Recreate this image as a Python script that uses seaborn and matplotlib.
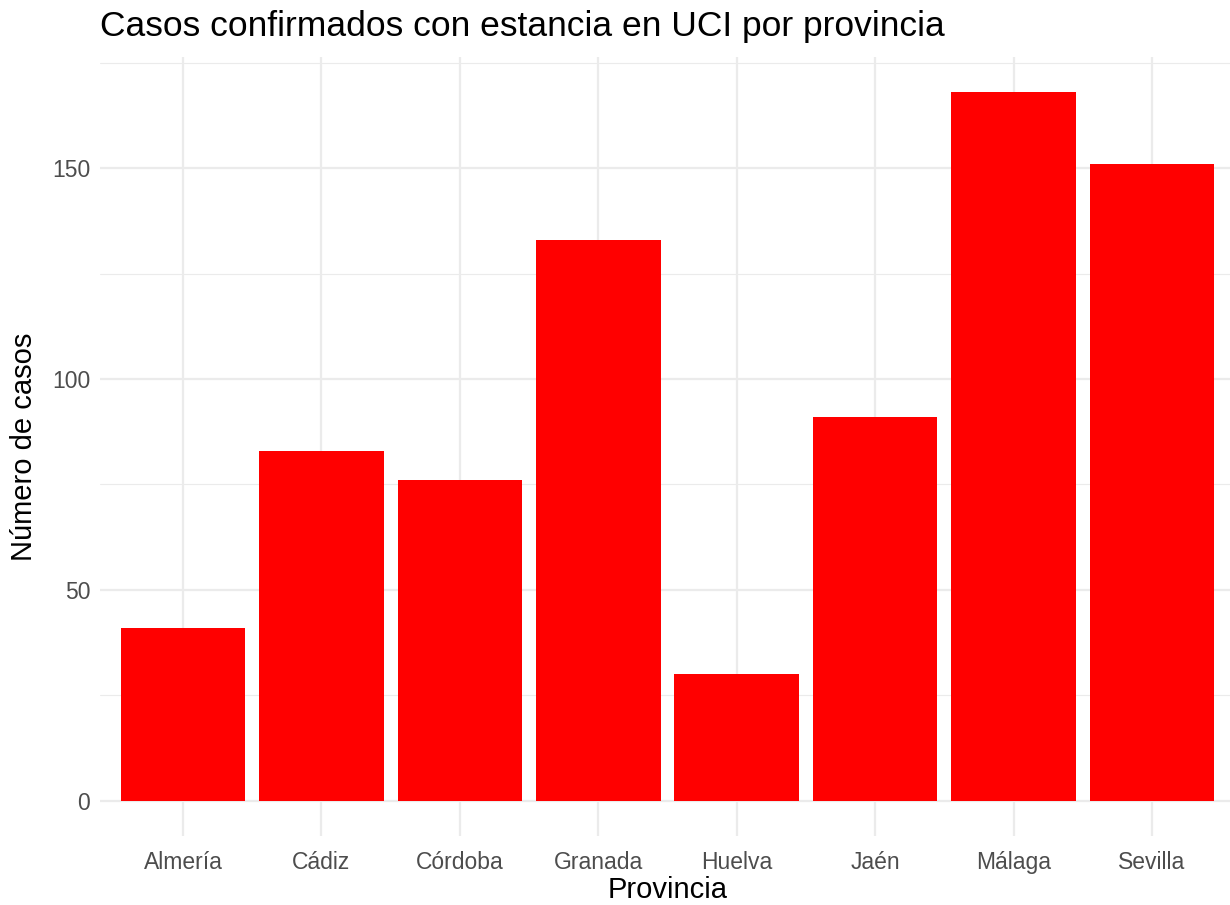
import matplotlib
matplotlib.use("Agg")
import matplotlib.pyplot as plt
import seaborn as sns
import pandas as pd
from matplotlib.ticker import MultipleLocator

provincias = ["Almería", "Cádiz", "Córdoba", "Granada", "Huelva", "Jaén", "Málaga", "Sevilla"]
casos = [41, 83, 76, 133, 30, 91, 168, 151]

df = pd.DataFrame({"Provincia": provincias, "casos": casos})

sns.set_style("white")
plt.rcParams['font.family'] = ['Liberation Sans', 'DejaVu Sans']

fig = plt.figure(figsize=(12.3, 9.05), dpi=100)
ax = fig.add_axes([100/1230, 1 - 836/905, 1135/1230, (836-57)/905])

sns.barplot(data=df, x="Provincia", y="casos", color="#FF0000", width=0.9,
            saturation=1, ax=ax, zorder=3, linewidth=0)

ax.set_xlim(-0.6, 7.6)
ax.set_ylim(-8.4, 176.4)
ax.yaxis.set_major_locator(MultipleLocator(50))
ax.yaxis.set_minor_locator(MultipleLocator(25))

ax.grid(which="major", axis="both", color="#EBEBEB", linewidth=1.6, zorder=0)
ax.grid(which="minor", axis="y", color="#EBEBEB", linewidth=0.8, zorder=0)
ax.set_axisbelow(True)
for s in ax.spines.values():
    s.set_visible(False)
ax.tick_params(axis="both", which="both", length=0, labelsize=16.5, colors="#4D4D4D", pad=7)
ax.tick_params(axis="x", pad=11)

ax.set_xlabel("Provincia", fontsize=21, color="black", labelpad=1)
ax.set_ylabel("Número de casos", fontsize=21, color="black", labelpad=10)
ax.set_title("Casos confirmados con estancia en UCI por provincia", fontsize=25.5,
             loc="left", x=0, pad=15, color="black")

fig.savefig("out.png", dpi=100)
